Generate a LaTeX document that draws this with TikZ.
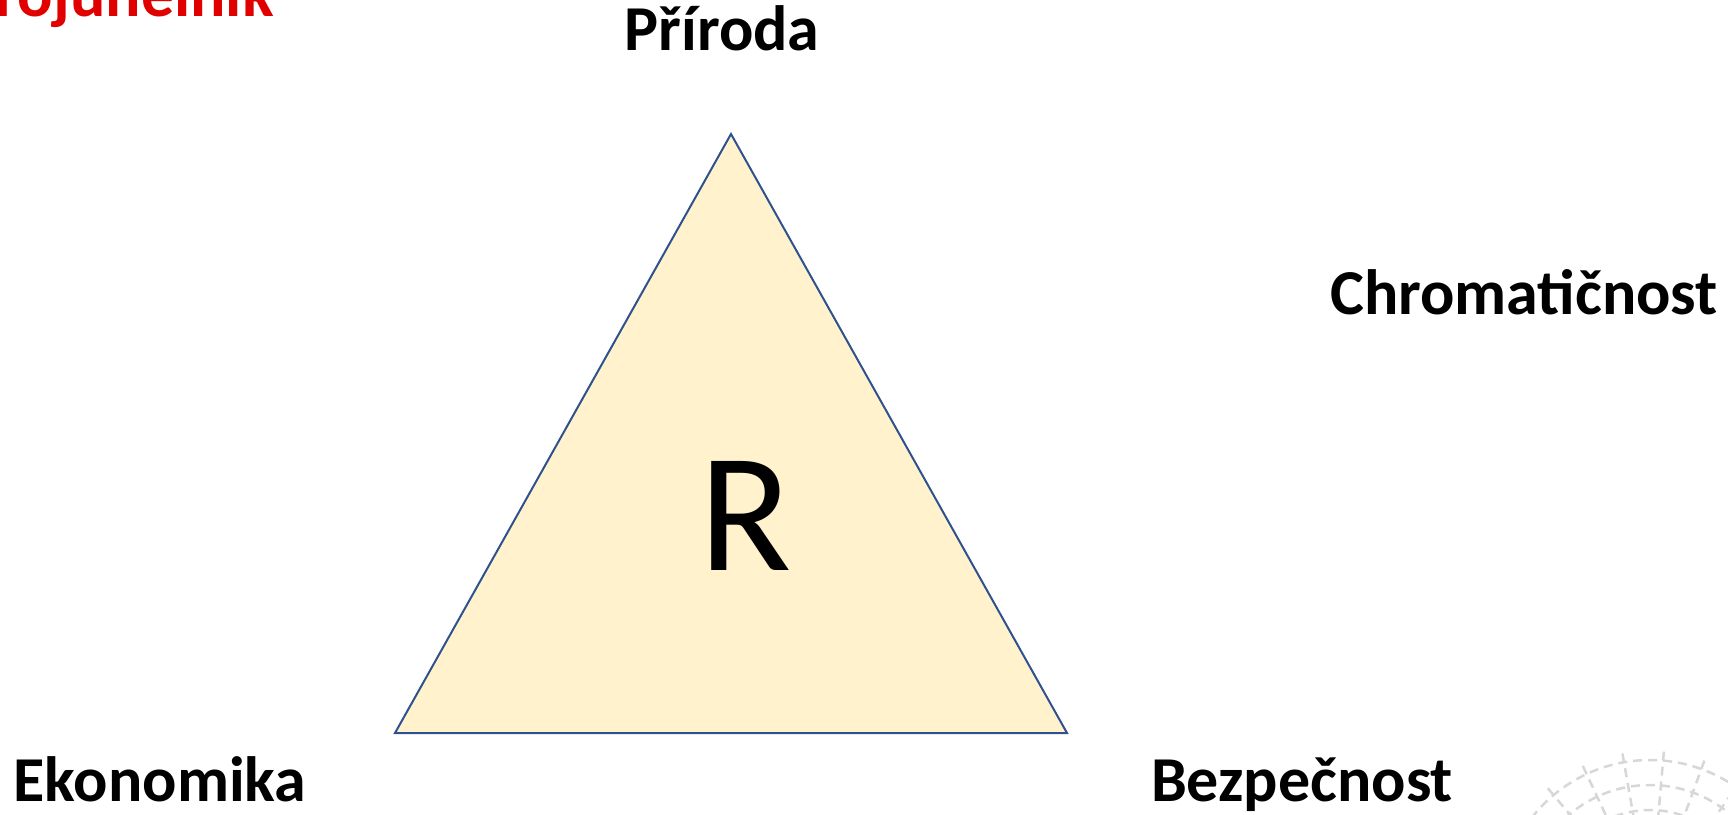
\documentclass[tikz,border=0pt]{standalone}
\usepackage{fontspec}
\setmainfont{Carlito}
\usepackage{xcolor}
\usepackage{tikz}
\usetikzlibrary{positioning}
\definecolor{modra}{RGB}{47,82,143}
\definecolor{zluta}{RGB}{255,242,204}
\definecolor{cervena}{RGB}{224,0,0}
\definecolor{sedaloga}{RGB}{215,215,215}
\tikzset{
  popisek/.style={inner sep=0pt,font=\fontsize{64}{66}\selectfont\bfseries,anchor=base},
  nadpis/.style={inner sep=0pt,font=\fontsize{66}{68}\selectfont\bfseries,text=cervena,anchor=base east},
  trojuhelnik/.style={draw=modra,fill=zluta,line width=2pt,line join=miter},
  pismeno/.style={inner sep=0pt,font=\fontsize{170}{170}\selectfont,anchor=base},
  logo/.style={sedaloga,line width=2.5pt,dash pattern=on 9pt off 6pt}
}
\begin{document}
\begin{tikzpicture}[x=1pt,y=-1pt]
\useasboundingbox (0,0) rectangle (1728,814);
% vrcholy
\coordinate (vrchol) at (731,134);
\coordinate (levy) at (395,733);
\coordinate (pravy) at (1067,733);
\draw[trojuhelnik] (vrchol) -- (pravy) -- (levy) -- cycle;
\node[pismeno] (r) at (746,570) {R};
% popisky
\node[nadpis] (nazev) at (274,16) {Trojúhelník};
\node[popisek] (priroda) at (722,50) {Příroda};
\node[popisek] (chrom) at (1524,314) {Chromatičnost};
\node[popisek] (ekon) at (160,801) {Ekonomika};
\node[popisek] (bezp) at (1302,801) {Bezpečnost};
% logo vpravo dole
\begin{scope}
\clip (1500,750) rectangle (1728,814);
\foreach \rr in {150,125,100}
  \draw[logo] (1650,910) circle[radius=\rr];
\foreach \uhel in {-160,-145,...,-20}
  \draw[logo] (1650,910) -- ++(\uhel:160);
\end{scope}
\end{tikzpicture}
\end{document}
